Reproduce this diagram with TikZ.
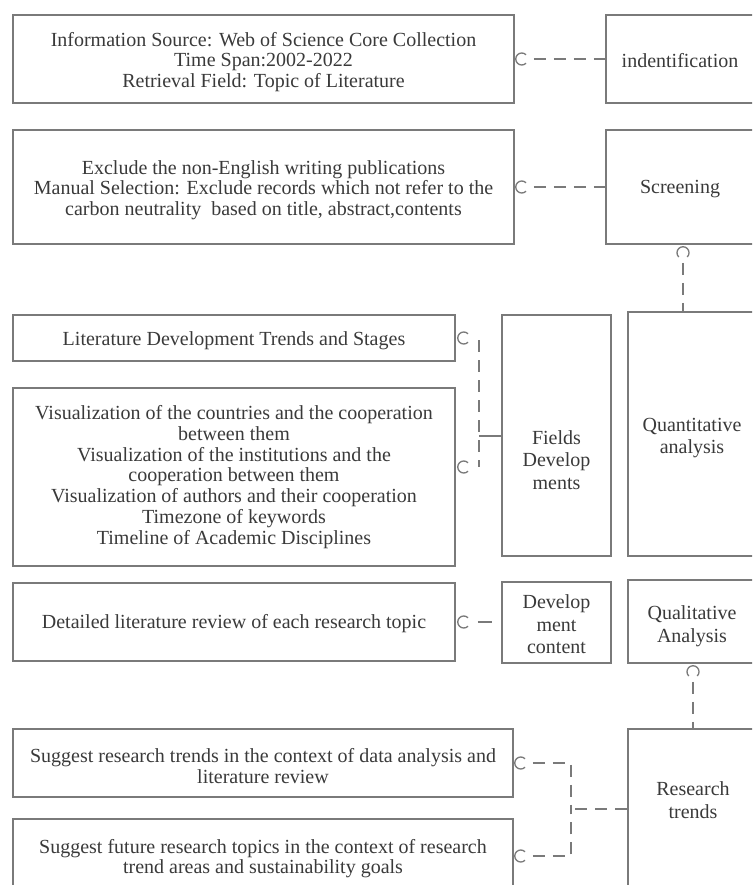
\documentclass[tikz,border=0pt]{standalone}
\usepackage{fontspec}
\setmainfont{Liberation Serif}
\usetikzlibrary{calc}
\definecolor{boxgray}{HTML}{7A7A7A}
\definecolor{txt}{HTML}{3A3A3A}
\begin{document}
\begin{tikzpicture}[x=1pt,y=-1pt,
  box/.style={draw=boxgray, line width=1.5pt, inner sep=0pt},
  lbl/.style={inner sep=0pt, align=center, font=\fontsize{20}{20.7}\selectfont, text=txt},
  lbln/.style={inner sep=0pt, align=center, font=\fontsize{20}{22.5}\selectfont, text=txt},
  conn/.style={draw=boxgray, line width=1.4pt, dash pattern=on 12pt off 8pt},
  solidconn/.style={draw=boxgray, line width=1.4pt},
  sockR/.pic={\draw[boxgray, line width=1.3pt] (45:6) arc (45:315:6);},
  sockD/.pic={\draw[boxgray, line width=1.3pt] (135:6) arc (135:405:6);}]
\useasboundingbox (0,0) rectangle (752,885);
\clip (0,0) rectangle (752,885);
\fill[white] (0,0) rectangle (752,885);

% boxes
\node[box, minimum width=501, minimum height=88] (info) at (263.5,59) {};
\node[lbl] (infot) at (263.5,62)
  {Information Source: Web of Science Core Collection\\Time Span:2002-2022\\Retrieval Field: Topic of Literature};
\node[box, minimum width=148, minimum height=88] (ident) at (680,59) {};
\node[lbl] (identt) at (680,61) {indentification};
\node[box, minimum width=501, minimum height=114] (excl) at (263.5,187) {};
\node[lbl] (exclt) at (263.5,190)
  {Exclude the non-English writing publications\\Manual Selection: Exclude records which not refer to the\\carbon neutrality\ \ based on title, abstract,contents};
\node[box, minimum width=148, minimum height=114] (screen) at (680,187) {};
\node[lbl] (screent) at (680,189) {Screening};
\node[box, minimum width=442, minimum height=46] (lit) at (234,338) {};
\node[lbl] (litt) at (234,341) {Literature Development Trends and Stages};
\node[box, minimum width=442, minimum height=178] (vis) at (234,477) {};
\node[lbl] (vist) at (234,477) {Visualization of the countries and the cooperation\\between them\\Visualization of the institutions and the\\cooperation between them\\Visualization of authors and their cooperation\\Timezone of keywords\\Timeline of Academic Disciplines};
\node[box, minimum width=109, minimum height=241] (fields) at (556.5,435.5) {};
\node[lbln] (fieldst) at (556.5,460) {Fields\\Develop\\ments};
\node[box, minimum width=128, minimum height=244] (quant) at (692,434) {};
\node[lbln] (quantt) at (692,438) {Quantitative\\analysis};
\node[box, minimum width=442, minimum height=78] (detail) at (234,622) {};
\node[lbl] (detailt) at (234,624) {Detailed literature review of each research topic};
\node[box, minimum width=109, minimum height=81] (devc) at (556.5,622.5) {};
\node[lbln] (devct) at (556.5,624.5) {Develop\\ment\\content};
\node[box, minimum width=128, minimum height=83] (qual) at (692,621.5) {};
\node[lbln] (qualt) at (692,626) {Qualitative\\Analysis};
\node[box, minimum width=500, minimum height=68] (sug1) at (263,763) {};
\node[lbl] (sug1t) at (263,766)
  {Suggest research trends in the context of data analysis and\\literature review};
\node[box, minimum width=500, minimum height=74] (sug2) at (263,856) {};
\node[lbl] (sug2t) at (263,858.5)
  {Suggest future research topics in the context of research\\trend areas and sustainability goals};
\node[box, minimum width=130, minimum height=171] (rt) at (693,814.5) {};
\node[lbln] (rtt) at (693,800) {Research\\trends};

% connectors
\pic at ($(info.east)+(7,0)$) {sockR};
\draw[conn, dash phase=14pt] ($(info.east)+(13,0)$) -- (ident.west);
\pic at ($(excl.east)+(7,0)$) {sockR};
\draw[conn, dash phase=14pt] ($(excl.east)+(13,0)$) -- (screen.west);

\coordinate (sq) at ($(screen.south)+(3,0)$);
\pic at ($(sq)+(0,8)$) {sockD};
\draw[conn, dash phase=16pt] ($(sq)+(0,14)$) -- (sq |- quant.north);

\coordinate (jtop) at (479,340);
\coordinate (jbot) at (479,467);
\coordinate (jf) at (479,436);
\pic at ($(lit.east)+(8,0)$) {sockR};
\pic at ($(vis.east)+(8,-10)$) {sockR};
\draw[conn] (jtop) -- (jbot);
\draw[solidconn] (jf) -- (jf -| fields.west);

\pic at ($(detail.east)+(8,0)$) {sockR};
\draw[solidconn, dash pattern=on 0pt off 8pt on 14pt off 30pt] ($(detail.east)+(14,0)$) -- (devc.west |- detail.east);

\pic at ($(qual.south)+(1,8)$) {sockD};
\draw[conn, dash phase=16pt] ($(qual.south)+(1,14)$) -- (rt.north);

\coordinate (jr) at (571,809);
\pic at ($(sug1.east)+(7,0)$) {sockR};
\pic at ($(sug2.east)+(7,0)$) {sockR};
\draw[conn, dash phase=14pt] ($(sug1.east)+(13,0)$) -| (jr);
\draw[conn, dash phase=14pt] ($(sug2.east)+(13,0)$) -| (jr);
\draw[conn, dash phase=16pt] (jr) -- (jr -| rt.west);
\end{tikzpicture}
\end{document}
